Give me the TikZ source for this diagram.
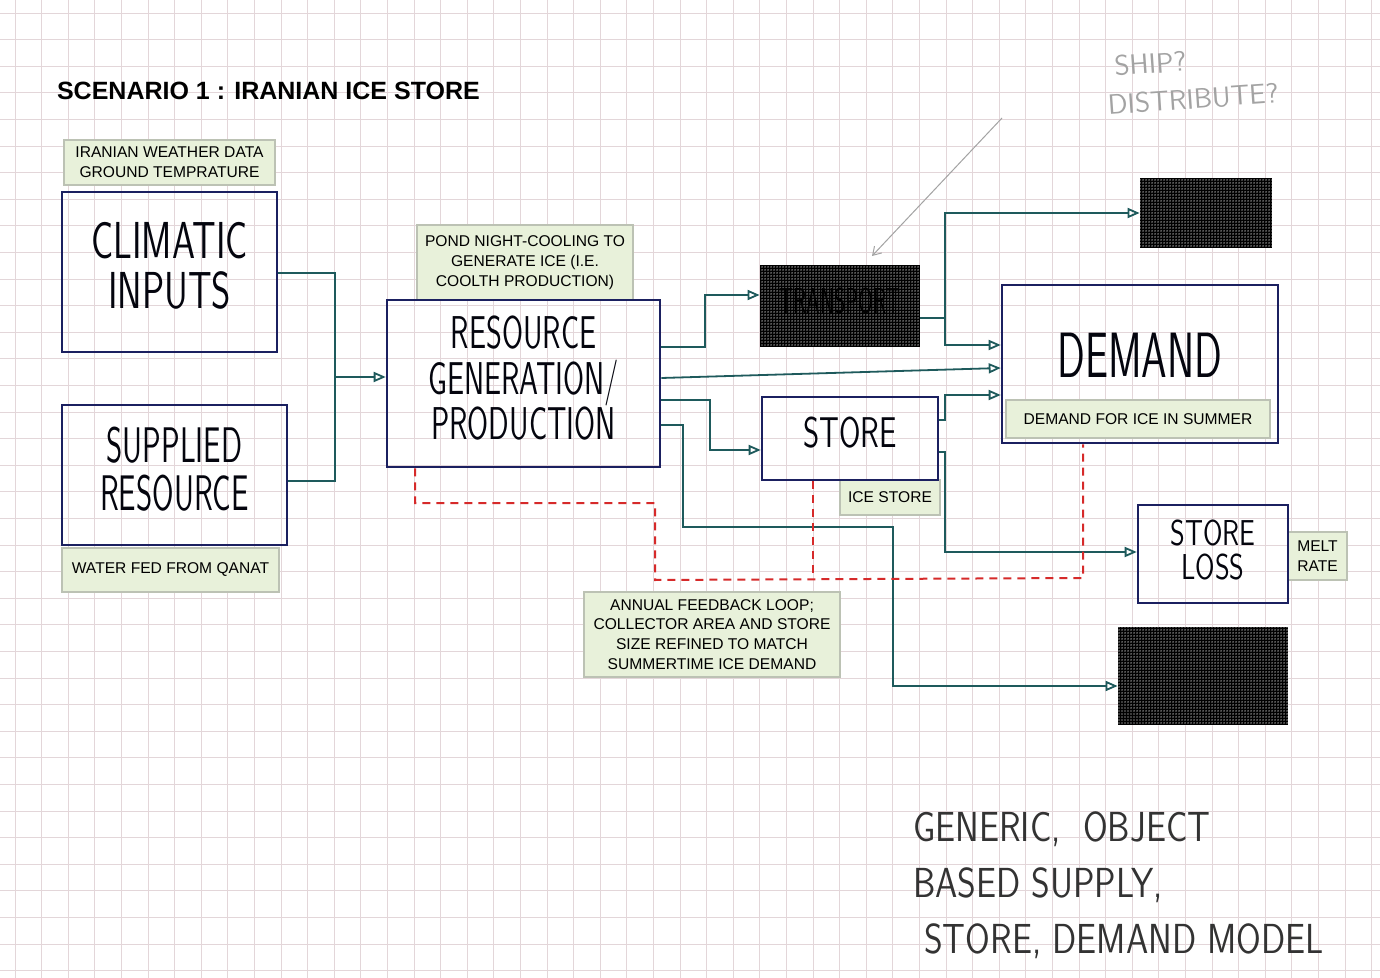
\documentclass[tikz,border=0pt]{standalone}
\usepackage{fontspec}
\usepackage{graphicx}
\newfontfamily\labelfont{Liberation Sans}
\usetikzlibrary{arrows.meta,patterns,calc}

\definecolor{ink}{HTML}{1B2060}
\definecolor{linkink}{HTML}{1E5A5C}
\definecolor{loopred}{HTML}{D62A2A}
\definecolor{notefill}{HTML}{E8F1DA}
\definecolor{noteedge}{HTML}{BCC2B4}
\definecolor{gridpink}{HTML}{E3D6D9}
\definecolor{pencil}{HTML}{A3A3A3}

\pgfdeclarepatternformonly{finedots}{\pgfqpoint{-0.5pt}{-0.5pt}}{\pgfqpoint{0.5pt}{0.5pt}}{\pgfqpoint{1.5pt}{1.5pt}}{%
  \pgfpathcircle{\pgfqpoint{0pt}{0pt}}{0.36pt}\pgfusepath{fill}}

\newcommand\squeeze[2]{\scalebox{#1}[1]{\begin{tabular}{@{}c@{}}#2\end{tabular}}}

\begin{document}
\begin{tikzpicture}[x=0.5pt,y=-0.5pt,
  sketchbox/.style={draw=ink,line width=1.3pt,inner sep=0pt,text=black!85!ink},
  darkbox/.style={preaction={fill=black},pattern=finedots,pattern color=white,inner sep=0pt},
  note/.style={draw=noteedge,fill=notefill,line width=0.6pt,inner sep=0pt,align=center,font=\labelfont\fontsize{7.8}{9.9}\selectfont},
  link/.style={draw=linkink,line width=0.9pt},
  flow/.style={link,-{Triangle[open,length=6pt,width=5pt]}},
  feedback/.style={draw=loopred,line width=1pt,dash pattern=on 4pt off 3pt},
  gridline/.style={draw=gridpink,line width=0.4pt},
  pencilline/.style={draw=pencil,line width=0.5pt,-{Straight Barb[length=4pt,width=5pt]}}]
  \useasboundingbox (0,0) rectangle (1380,978);
  \fill[white] (0,0) rectangle (1380,978);
  \foreach \gx in {15,41.6,...,1380} \draw[gridline] (\gx,0) -- (\gx,978);
  \foreach \gy in {13,39.6,...,978} \draw[gridline] (0,\gy) -- (1380,\gy);

  \node[anchor=west,font=\labelfont\bfseries\fontsize{12.5}{15}\selectfont] (title) at (50,91) {SCENARIO 1 : IRANIAN ICE STORE};

  \node[note,minimum width=105.5pt,minimum height=22.5pt] (weather) at (169.5,162.5) {IRANIAN WEATHER DATA\\GROUND TEMPRATURE};
  \node[note,minimum width=108.5pt,minimum height=22pt] (qanat) at (170.5,570) {WATER FED FROM QANAT};
  \node[note,minimum width=108pt,minimum height=37.5pt] (pond) at (525,262.5) {POND NIGHT-COOLING TO\\GENERATE ICE (I.E.\\COOLTH PRODUCTION)};
  \node[note,minimum width=50pt,minimum height=17.5pt] (icestore) at (890,497.5) {ICE STORE};
  \node[note,minimum width=132pt,minimum height=19pt] (demandnote) at (1138,419) {DEMAND FOR ICE IN SUMMER};
  \node[note,minimum width=29.5pt,minimum height=24pt] (melt) at (1317.5,556) {MELT\\RATE};
  \node[note,minimum width=128pt,minimum height=42.5pt] (annual) at (712,634.5) {ANNUAL FEEDBACK LOOP;\\COLLECTOR AREA AND STORE\\SIZE REFINED TO MATCH\\SUMMERTIME ICE DEMAND};

  \node[sketchbox,minimum width=107.5pt,minimum height=80pt,font=\sffamily\fontsize{26}{21.5}\selectfont] (climatic) at (169.5,272) {\squeeze{0.71}{CLIMATIC\\INPUTS}};
  \node[sketchbox,minimum width=112.5pt,minimum height=70pt,font=\sffamily\fontsize{25}{21}\selectfont] (supplied) at (174.5,475) {\squeeze{0.62}{SUPPLIED\\RESOURCE}};
  \node[sketchbox,minimum width=136.5pt,minimum height=83.5pt,font=\sffamily\fontsize{23}{20}\selectfont] (gen) at (523.5,383.5) {\squeeze{0.66}{RESOURCE\\GENERATION/\\PRODUCTION}};
  \node[sketchbox,minimum width=88pt,minimum height=41.5pt,font=\sffamily\fontsize{21.5}{20}\selectfont] (store) at (850,438.5) {\squeeze{0.72}{STORE}};
  \node[sketchbox,minimum width=138pt,minimum height=79pt,font=\sffamily\fontsize{32}{30}\selectfont] (demand) at (1140,364) {\squeeze{0.64}{DEMAND}};
  \node[sketchbox,minimum width=75pt,minimum height=49pt,font=\sffamily\fontsize{18}{13.5}\selectfont] (loss) at (1213,554) {\squeeze{0.78}{STORE\\LOSS}};

  \node[darkbox,minimum width=80pt,minimum height=41pt,font=\sffamily\fontsize{18}{16}\selectfont] (transport) at (840,306) {\squeeze{0.6}{TRANSPORT}};
  \node[darkbox,minimum width=66pt,minimum height=35pt] (topbox) at (1206,213) {};
  \node[darkbox,minimum width=85pt,minimum height=49pt] (checkbox) at (1203,676) {};

  \node[text=pencil,rotate=4,font=\sffamily\fontsize{14}{19}\selectfont] (shipnote) at (1192,82) {\begin{tabular}{@{}l@{}}\ SHIP?\\DISTRIBUTE?\end{tabular}};
  \node[anchor=west,text=black!80,font=\sffamily\fontsize{21}{28}\selectfont] (modelnote) at (906,886) {\scalebox{0.85}[1]{\begin{tabular}{@{}l@{}}GENERIC,\ \ OBJECT\\BASED SUPPLY,\\\ STORE, DEMAND MODEL\end{tabular}}};

  \coordinate (join) at (335,377);
  \draw[link] (climatic.east |- 0,273) -| (join);
  \draw[link] (supplied.east |- 0,481) -| (join);
  \draw[flow] (join) -- (gen.west |- join);

  \draw[flow] (gen.east |- 0,347) -- (705,347) |- (transport.west |- 0,295);
  \draw[flow] (gen.east |- 0,378) -- (demand.west |- 0,368);
  \draw[flow] (gen.east |- 0,400) -- (710,400) |- (store.west |- 0,450);
  \draw[flow] (gen.east |- 0,425) -- (683,425) |- (893,527) |- (checkbox.west |- 0,686);

  \coordinate (tjoin) at (945,318);
  \draw[link] (transport.east |- tjoin) -- (tjoin);
  \draw[flow] (tjoin) |- (topbox.west |- 0,213);
  \draw[flow] (tjoin) |- (demand.west |- 0,345);
  \draw[flow] (store.east |- 0,420) -- (945,420) |- (demand.west |- 0,395);
  \draw[flow] (store.east |- 0,452) -- (945,452) |- (loss.west |- 0,552);

  \draw[feedback] (415,0 |- gen.south) -- (415,503) -- (655,503) -- (655,580) -- (1083,578) -- (1083,0 |- demand.south);
  \draw[feedback] (813,0 |- store.south) -- (813,579);

  \coordinate (shipfoot) at (1002,118);
  \coordinate (shiptip) at (872,256);
  \draw[pencilline] (shipfoot) -- (shiptip);
\end{tikzpicture}
\end{document}
